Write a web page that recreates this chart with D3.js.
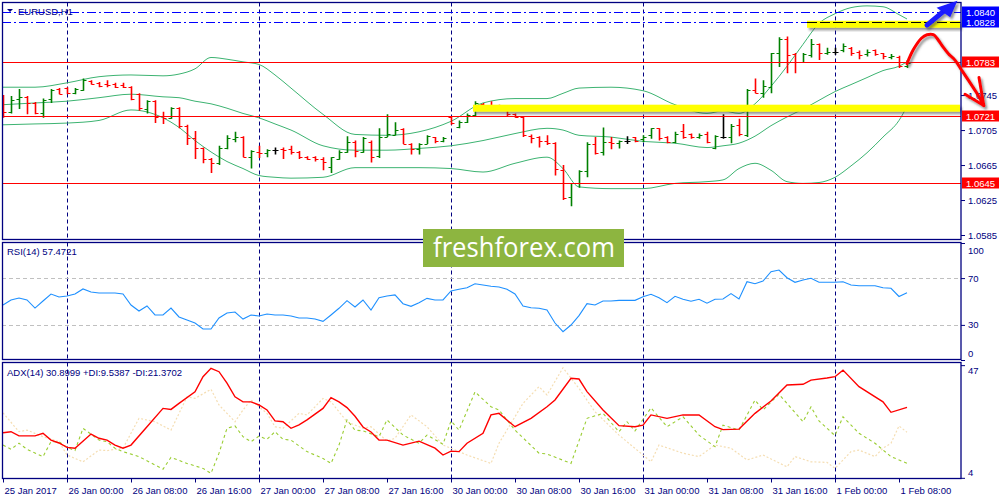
<!DOCTYPE html>
<html>
<head>
<meta charset="utf-8">
<script src="https://cdnjs.cloudflare.com/ajax/libs/d3/7.8.5/d3.min.js"></script>
<style>
	html, body { margin: 0; padding: 0; background: #fff; }
	svg { display: block; font-family: "Liberation Sans", Arial, sans-serif; }
</style>
</head>
<body>
<svg id="chart" width="1000" height="500"></svg>
<script>
// EURUSD H1, 25 Jan 16:00 .. 1 Feb 09:00 (bar index 0..113)
var opens = [1.0744,1.0726,1.0741,1.0743,1.0736,1.0724,1.0741,1.0752,1.0753,1.0747,
	1.0751,1.0761,1.0759,1.0758,1.0758,1.0757,1.0754,1.0746,1.0729,1.0738,
	1.0721,1.0719,1.0730,1.0710,1.0696,1.0684,1.0672,1.0667,1.0684,1.0695,
	1.0697,1.0674,1.0680,1.0679,1.0682,1.0683,1.0683,1.0680,1.0674,1.0674,
	1.0672,1.0663,1.0672,1.0680,1.0691,1.0680,1.0691,1.0675,1.0697,1.0699,
	1.0706,1.0689,1.0683,1.0689,1.0697,1.0693,1.0720,1.0708,1.0714,1.0722,
	1.0735,1.0732,1.0731,1.0729,1.0723,1.0720,1.0698,1.0697,1.0693,1.0690,
	1.0659,1.0628,1.0644,1.0658,1.0689,1.0680,1.0691,1.0690,1.0693,1.0697,
	1.0695,1.0699,1.0707,1.0697,1.0691,1.0704,1.0701,1.0697,1.0701,1.0684,
	1.0697,1.0697,1.0711,1.0699,1.0751,1.0747,1.0754,1.0793,1.0809,1.0792,
	1.0783,1.0791,1.0803,1.0793,1.0794,1.0796,1.0799,1.0794,1.0792,1.0796,
	1.0793,1.0789,1.0789,1.0778];
var highs = [1.0745,1.0744,1.0752,1.0744,1.0737,1.0741,1.0752,1.0753,1.0754,1.0753,
	1.0764,1.0762,1.0760,1.0762,1.0759,1.0759,1.0755,1.0747,1.0739,1.0739,
	1.0726,1.0731,1.0731,1.0711,1.0704,1.0685,1.0673,1.0687,1.0699,1.0703,
	1.0698,1.0682,1.0687,1.0683,1.0685,1.0685,1.0687,1.0681,1.0675,1.0675,
	1.0674,1.0674,1.0682,1.0698,1.0693,1.0697,1.0693,1.0707,1.0723,1.0714,
	1.0707,1.0690,1.0690,1.0699,1.0697,1.0697,1.0720,1.0716,1.0724,1.0738,
	1.0736,1.0738,1.0734,1.0730,1.0724,1.0720,1.0700,1.0698,1.0699,1.0691,
	1.0665,1.0644,1.0659,1.0691,1.0697,1.0708,1.0697,1.0693,1.0698,1.0697,
	1.0699,1.0707,1.0707,1.0698,1.0703,1.0712,1.0701,1.0701,1.0703,1.0699,
	1.0723,1.0712,1.0718,1.0752,1.0764,1.0762,1.0793,1.0811,1.0812,1.0793,
	1.0793,1.0809,1.0804,1.0799,1.0799,1.0804,1.0800,1.0796,1.0797,1.0797,
	1.0793,1.0792,1.0790,1.0785];
var lows = [1.0719,1.0724,1.0729,1.0723,1.0723,1.0719,1.0736,1.0746,1.0746,1.0746,
	1.0750,1.0757,1.0754,1.0754,1.0753,1.0753,1.0739,1.0727,1.0724,1.0713,
	1.0712,1.0718,1.0707,1.0688,1.0672,1.0667,1.0656,1.0665,1.0683,1.0691,
	1.0674,1.0661,1.0673,1.0674,1.0677,1.0672,1.0677,1.0672,1.0671,1.0669,
	1.0659,1.0656,1.0671,1.0679,1.0674,1.0679,1.0668,1.0673,1.0697,1.0699,
	1.0689,1.0677,1.0677,1.0689,1.0690,1.0691,1.0711,1.0707,1.0713,1.0721,
	1.0729,1.0730,1.0727,1.0721,1.0719,1.0697,1.0690,1.0685,1.0688,1.0653,
	1.0625,1.0618,1.0639,1.0651,1.0677,1.0676,1.0683,1.0684,1.0689,1.0691,
	1.0691,1.0695,1.0693,1.0690,1.0690,1.0695,1.0695,1.0695,1.0690,1.0683,
	1.0695,1.0690,1.0698,1.0697,1.0747,1.0742,1.0747,1.0777,1.0770,1.0770,
	1.0782,1.0788,1.0785,1.0791,1.0791,1.0794,1.0790,1.0786,1.0789,1.0790,
	1.0786,1.0786,1.0776,1.0776];
var closes = [1.0726,1.0739,1.0743,1.0736,1.0724,1.0739,1.0751,1.0746,1.0747,1.0752,
	1.0762,1.0758,1.0755,1.0757,1.0754,1.0754,1.0741,1.0730,1.0738,1.0720,
	1.0719,1.0730,1.0710,1.0696,1.0684,1.0672,1.0667,1.0685,1.0696,1.0697,
	1.0674,1.0681,1.0679,1.0682,1.0682,1.0682,1.0680,1.0674,1.0672,1.0672,
	1.0668,1.0674,1.0680,1.0691,1.0681,1.0696,1.0674,1.0697,1.0701,1.0705,
	1.0689,1.0683,1.0689,1.0698,1.0693,1.0696,1.0713,1.0714,1.0722,1.0736,
	1.0731,1.0731,1.0729,1.0723,1.0720,1.0699,1.0696,1.0693,1.0690,1.0660,
	1.0627,1.0644,1.0658,1.0689,1.0679,1.0691,1.0690,1.0692,1.0693,1.0693,
	1.0697,1.0707,1.0696,1.0691,1.0701,1.0697,1.0697,1.0699,1.0691,1.0698,
	1.0697,1.0710,1.0701,1.0751,1.0747,1.0755,1.0793,1.0809,1.0791,1.0783,
	1.0792,1.0803,1.0793,1.0794,1.0794,1.0801,1.0793,1.0791,1.0794,1.0792,
	1.0790,1.0790,1.0778,1.0782];

// Bollinger bands, read at these bar indices
var bandIdx = [0,4,8,12,16,20,22,24,26,28,30,32,34,36,40,44,48,52,56,60,64,68,70,72,76,80,84,88,90,92,94,96,98,100,102,104,106,108,110,112,113];
var bandUpper = [1.0754,1.0754,1.0759,1.0766,1.0768,1.0767,1.0769,1.0775,1.0788,1.0786,1.0783,1.0780,1.0768,1.0753,
	1.0723,1.0700,1.0699,1.0703,1.0715,1.0736,1.0741,1.0741,1.0747,1.0753,1.0754,1.0750,1.0734,1.0724,
	1.0727,1.0724,1.0735,1.0755,1.0778,1.0803,1.0827,1.0838,1.0845,1.0847,1.0846,1.0837,1.0832];
var bandMiddle = [1.0734,1.0736,1.0738,1.0742,1.0746,1.0743,1.0742,1.0738,1.0735,1.0730,1.0724,1.0719,1.0712,1.0705,
	1.0687,1.0682,1.0682,1.0684,1.0687,1.0693,1.0701,1.0707,1.0705,1.0699,1.0697,1.0692,1.0690,1.0685,
	1.0687,1.0690,1.0698,1.0710,1.0720,1.0729,1.0739,1.0749,1.0757,1.0765,1.0773,1.0778,1.0783];
var bandLower = [1.0711,1.0712,1.0713,1.0716,1.0728,1.0719,1.0708,1.0693,1.0680,1.0669,1.0661,1.0653,1.0651,1.0650,
	1.0651,1.0662,1.0662,1.0662,1.0661,1.0657,1.0667,1.0674,1.0661,1.0640,1.0638,1.0638,1.0644,1.0646,
	1.0648,1.0661,1.0667,1.0659,1.0646,1.0644,1.0645,1.0651,1.0664,1.0679,1.0697,1.0716,1.0732];

var rsiValues = [47,51.3,53,51.3,44.4,50.4,56.4,53.8,54.7,56.4,
	60.7,58.1,57.3,57.3,57.3,56.4,47,41.9,46.2,38.5,
	38.5,44.4,36.8,34.2,31.6,26.5,26.5,35.9,40.2,41,
	35,38.5,37.6,39.3,38.5,38.5,37.6,35.9,35.9,35,
	33,38.5,44.2,50.7,45.3,51.3,42.7,53.2,54.7,55.6,
	48.1,45.9,49,52.7,51.3,51.3,59,60.4,61.8,65.2,
	64.1,63,62.4,60.4,56.4,46.2,44.7,44.2,42.7,31.6,
	24.2,29.9,37.9,48.1,47,50.4,50.4,51,51,51,
	54.1,56.2,53.2,49,54.4,51.9,50.2,51.9,48.5,51.9,
	52.1,56.7,52.1,66.9,65.2,67.5,75.5,76.9,70.3,66.4,
	68.4,69.8,66.4,66.4,66.4,66.9,64.1,63.5,63.5,63.5,
	61.8,61.3,54.3,57.4721];

// ADX(14) lines as [bar index, value]
var adxMain = [[0,21.2],[1,21.6],[2,20.0],[4,20.0],[5,21.0],[6,18.4],[7,17.3],[8,15.6],[9,15.3],[11,20.7],
	[12,19.1],[13,18.4],[14,16.5],[15,15.3],[16,16.5],[18,23.5],[20,30.5],[21,30.1],[22,32.4],[24,36.8],
	[25,42.6],[26,45.8],[27,44.5],[28,40.1],[29,34.9],[30,33.0],[31,33.0],[32,31.8],[33,29.9],[34,25.7],
	[35,25.4],[36,22.9],[37,24.2],[38,26.1],[40,30.5],[41,34.6],[42,33.0],[43,30.8],[44,27.5],[45,23.4],
	[46,21.5],[47,18.4],[48,18.4],[50,16.5],[52,18.0],[54,15.3],[55,12.7],[56,14.2],[57,14.0],[58,17.2],
	[60,21.0],[61,28.0],[62,28.6],[64,23.5],[66,26.7],[68,31.1],[69,33.7],[71,42.0],[72,41.7],[73,36.9],
	[75,29.9],[77,23.9],[79,23.5],[80,24.1],[81,28.0],[83,26.7],[85,28.0],[87,28.0],[89,23.5],[90,22.4],
	[92,22.6],[94,28.6],[96,33.3],[98,39.4],[100,39.7],[101,41.3],[103,42.1],[104,42.6],[105,45.1],[107,38.8],
	[110,33.0],[111,29.0],[113,30.8999]];
var plusDI = [[0,16.5],[1,14.9],[2,17.2],[3,14.9],[5,12.1],[6,17.8],[7,17.8],[8,15.6],[9,14.4],[10,22.9],
	[12,18.4],[13,17.8],[14,15.3],[15,14.0],[17,12.1],[20,7.3],[21,11.8],[23,9.5],[25,7.6],[26,5.7],
	[27,13.4],[28,22.9],[29,23.8],[30,19.7],[31,17.8],[32,19.9],[33,18.7],[34,21.6],[35,18.7],[36,18.4],
	[38,14.0],[40,11.4],[41,9.5],[42,16.5],[43,26.1],[44,22.2],[45,21.9],[47,19.7],[48,26.1],[50,20.3],
	[52,17.2],[53,20.3],[55,16.8],[56,25.7],[57,22.2],[59,36.8],[61,31.1],[62,29.9],[64,22.2],[67,13.4],
	[68,13.1],[71,9.5],[73,26.7],[75,28.6],[77,21.6],[78,25.4],[79,21.9],[81,30.7],[83,23.5],[85,27.3],
	[87,20.3],[89,15.9],[90,24.1],[92,22.2],[94,33.7],[95,29.9],[97,35.9],[98,32.4],[100,25.4],[101,31.1],
	[102,25.7],[104,20.1],[105,27.3],[107,21.0],[109,17.2],[111,12.1],[113,9.5387]];
var minusDI = [[0,28.8],[2,21.6],[3,22.2],[5,19.7],[7,17.8],[8,12.7],[10,10.1],[12,14.6],[13,14.4],[15,15.3],
	[17,26.7],[19,25.4],[21,22.2],[23,34.9],[24,34.3],[26,37.8],[27,31.8],[29,25.4],[30,29.9],[31,33.7],
	[33,28.6],[34,23.5],[35,22.9],[37,28.6],[38,28.0],[39,31.1],[40,34.3],[41,33.0],[43,25.4],[45,22.9],
	[46,23.5],[48,18.0],[49,19.1],[51,28.0],[53,23.5],[55,16.5],[56,15.3],[58,12.7],[61,9.5],[62,17.2],
	[65,32.4],[67,38.8],[68,35.6],[70,46.0],[72,38.1],[74,29.2],[77,20.3],[80,12.7],[81,10.1],[82,16.5],
	[85,13.4],[87,12.1],[89,16.5],[91,15.3],[93,10.8],[95,12.7],[98,8.2],[99,12.1],[101,10.1],[103,9.9],
	[104,7.6],[106,14.0],[107,14.6],[109,12.1],[110,15.3],[111,17.2],[112,23.8],[113,21.3702]];

var timeIdx = [0,8,16,24,32,40,48,56,64,72,80,88,96,104,112];
var timeLabels = ["25 Jan 2017","26 Jan 00:00","26 Jan 08:00","26 Jan 16:00","27 Jan 00:00","27 Jan 08:00",
	"27 Jan 16:00","30 Jan 00:00","30 Jan 08:00","30 Jan 16:00","31 Jan 00:00","31 Jan 08:00",
	"31 Jan 16:00","1 Feb 00:00","1 Feb 08:00"];
var dayStarts = [8,32,56,80,104];

var priceTicks = [1.0745,1.0705,1.0665,1.0625,1.0585];
var targetLevels = [1.0840,1.0828];
var supportLevels = [1.0783,1.0721,1.0645];
var rsiTicks = [100,70,30,0];
var rsiLevels = [70,30];
var adxTicks = [47,4];

// highlighted zones: start bar, top price, bottom price
var zoneStart = [100.5,58.75];
var zoneTop = [1.0830,1.0734];
var zoneBottom = [1.0822,1.0726];

// hand drawn forecast (bar index, price)
var forecastPath = [[113,1.0781],[113.8,1.0797],[114.8,1.0810],[115.5,1.0814],[116.3,1.0814],[116.9,1.0808],
	[117.5,1.0800],[118.2,1.0792],[119.0,1.0785],[119.8,1.0774],[120.6,1.0763],[121.6,1.0749],[122.6,1.0733]];
var forecastHead = [[122,1.0765],[122.6,1.0733],[120.25,1.0746]];
var breakoutShaft = [[115.5,1.0825],[117.6,1.0841]];
var breakoutHead = [[116.7,1.0845],[119.3,1.0853],[118.4,1.0834]];

var symbolTitle = "EURUSD,H1";
var rsiTitle = "RSI(14) 57.4721";
var adxTitle = "ADX(14) 30.8999 +DI:9.5387 -DI:21.3702";

(function(){
	var svg = d3.select("#chart");
	var axisColor = "#000080";
	var fontSize = "9.5px";
	var left = 2, right = 961;
	var panels = {
		main: {top: 2.5, bottom: 239.5},
		rsi: {top: 242.5, bottom: 359.5},
		adx: {top: 362.5, bottom: 478.5}
	};

	var x = d3.scaleLinear().domain([0, 113]).range([3, 907]);
	var yMain = d3.scaleLinear().domain([1.0840, 1.0585]).range([12, 235]);
	var yRsi = d3.scaleLinear().domain([0, 100]).range([360, 243]);
	var yAdx = d3.scaleLinear().domain([3.55, 48.2]).range([479, 362]);
	var fmt = d3.format(".4f");

	var defs = svg.append("defs");
	Object.keys(panels).forEach(function(k){
		var p = panels[k];
		defs.append("clipPath").attr("id", "clip-" + k)
			.append("rect").attr("x", left).attr("y", p.top).attr("width", right - left).attr("height", p.bottom - p.top);
	});
	var shadow = defs.append("filter").attr("id", "shadow")
		.attr("x", "-20%").attr("y", "-20%").attr("width", "150%").attr("height", "180%");
	shadow.append("feDropShadow").attr("dx", 2).attr("dy", 2.5).attr("stdDeviation", 1.3)
		.attr("flood-color", "#444").attr("flood-opacity", 0.55);

	// day separators
	function separators(key){
		var p = panels[key];
		svg.append("g").selectAll("line").data(dayStarts).enter().append("line")
			.attr("x1", function(d){ return Math.round(x(d)) + 0.5; })
			.attr("x2", function(d){ return Math.round(x(d)) + 0.5; })
			.attr("y1", p.top).attr("y2", p.bottom)
			.attr("stroke", axisColor).attr("stroke-width", 1).attr("stroke-dasharray", "4,3");
	}
	separators("main"); separators("rsi"); separators("adx");

	// ---------- main panel ----------
	var gMain = svg.append("g").attr("clip-path", "url(#clip-main)");

	var band = function(vals){
		return d3.line()
			.x(function(d, i){ return x(bandIdx[i]); })
			.y(function(d){ return yMain(d); })
			.curve(d3.curveMonotoneX)(vals);
	};
	[bandUpper, bandMiddle, bandLower].forEach(function(vals){
		gMain.append("path").attr("d", band(vals))
			.attr("fill", "none").attr("stroke", "#3cb371").attr("stroke-width", 1);
	});

	var bars = opens.map(function(o, i){
		return {i: i, o: o, h: highs[i], l: lows[i], c: closes[i]};
	});
	function barColor(d){
		if(d.c > d.o){ return "#008000"; }
		if(d.c < d.o){ return "#ff0000"; }
		return "#000000";
	}
	var barG = gMain.selectAll("g.bar").data(bars).enter().append("g").classed("bar", true)
		.attr("stroke", barColor);
	barG.append("line")
		.attr("x1", function(d){ return Math.round(x(d.i)) + 0.5; })
		.attr("x2", function(d){ return Math.round(x(d.i)) + 0.5; })
		.attr("y1", function(d){ return yMain(d.h); })
		.attr("y2", function(d){ return yMain(d.l); })
		.attr("stroke-width", 1.6);
	barG.append("line")
		.attr("x1", function(d){ return Math.round(x(d.i)) - 2.5; })
		.attr("x2", function(d){ return Math.round(x(d.i)) + 0.5; })
		.attr("y1", function(d){ return Math.round(yMain(d.o)) + 0.5; })
		.attr("y2", function(d){ return Math.round(yMain(d.o)) + 0.5; })
		.attr("stroke-width", 1);
	barG.append("line")
		.attr("x1", function(d){ return Math.round(x(d.i)) + 0.5; })
		.attr("x2", function(d){ return Math.round(x(d.i)) + 3.5; })
		.attr("y1", function(d){ return Math.round(yMain(d.c)) + 0.5; })
		.attr("y2", function(d){ return Math.round(yMain(d.c)) + 0.5; })
		.attr("stroke-width", 1);

	// level lines
	gMain.selectAll("line.target").data(targetLevels).enter().append("line").classed("target", true)
		.attr("x1", left).attr("x2", right)
		.attr("y1", function(d){ return Math.round(yMain(d)) + 0.5; })
		.attr("y2", function(d){ return Math.round(yMain(d)) + 0.5; })
		.attr("stroke", "#0000ff").attr("stroke-width", 1).attr("stroke-dasharray", "9,3,2,3");
	gMain.selectAll("line.support").data(supportLevels).enter().append("line").classed("support", true)
		.attr("x1", left).attr("x2", right)
		.attr("y1", function(d){ return Math.round(yMain(d)) + 0.5; })
		.attr("y2", function(d){ return Math.round(yMain(d)) + 0.5; })
		.attr("stroke", "#ff0000").attr("stroke-width", 1.2);

	// yellow zones
	var zones = zoneStart.map(function(s, i){ return {s: s, t: zoneTop[i], b: zoneBottom[i]}; });
	svg.append("g").selectAll("rect").data(zones).enter().append("rect")
		.attr("x", function(d){ return x(d.s); })
		.attr("width", function(d){ return right - 1 - x(d.s); })
		.attr("y", function(d){ return yMain(d.t); })
		.attr("height", function(d){ return yMain(d.b) - yMain(d.t); })
		.attr("fill", "#ffff00").attr("filter", "url(#shadow)");
	svg.append("line")
		.attr("x1", x(zoneStart[0])).attr("x2", right - 1)
		.attr("y1", Math.round(yMain(targetLevels[1])) + 0.5).attr("y2", Math.round(yMain(targetLevels[1])) + 0.5)
		.attr("stroke", "#000").attr("stroke-width", 1.2).attr("stroke-dasharray", "10,3");

	// ---------- RSI panel ----------
	var gRsi = svg.append("g").attr("clip-path", "url(#clip-rsi)");
	gRsi.selectAll("line.lvl").data(rsiLevels).enter().append("line").classed("lvl", true)
		.attr("x1", left).attr("x2", right)
		.attr("y1", function(d){ return Math.round(yRsi(d)) + 0.5; })
		.attr("y2", function(d){ return Math.round(yRsi(d)) + 0.5; })
		.attr("stroke", "#c0c0c0").attr("stroke-dasharray", "4,3");
	gRsi.append("path")
		.attr("d", d3.line().x(function(d, i){ return x(i); }).y(function(d){ return yRsi(d); })(rsiValues))
		.attr("fill", "none").attr("stroke", "#1e90ff").attr("stroke-width", 1.1);

	// ---------- ADX panel ----------
	var gAdx = svg.append("g").attr("clip-path", "url(#clip-adx)");
	var adxLine = d3.line().x(function(d){ return x(d[0]); }).y(function(d){ return yAdx(d[1]); });
	gAdx.append("path").attr("d", adxLine(minusDI))
		.attr("fill", "none").attr("stroke", "#f5deb3").attr("stroke-width", 1.2).attr("stroke-dasharray", "2,2");
	gAdx.append("path").attr("d", adxLine(plusDI))
		.attr("fill", "none").attr("stroke", "#9acd32").attr("stroke-width", 1.1).attr("stroke-dasharray", "3,3");
	gAdx.append("path").attr("d", adxLine(adxMain))
		.attr("fill", "none").attr("stroke", "#ff0000").attr("stroke-width", 1.4);

	// ---------- frames ----------
	Object.keys(panels).forEach(function(k){
		var p = panels[k];
		svg.append("rect").attr("x", left + 0.5).attr("y", p.top).attr("width", right - left - 0.5)
			.attr("height", p.bottom - p.top)
			.attr("fill", "none").attr("stroke", axisColor).attr("stroke-width", 1.3);
	});

	// ---------- axes ----------
	function styleAxis(g){
		g.select(".domain").remove();
		g.selectAll("line").attr("stroke", axisColor);
		g.selectAll("text").attr("fill", axisColor).style("font-size", fontSize)
			.style("font-family", "\"Liberation Sans\", Arial, sans-serif");
	}
	function clampLabels(g, scale, p){
		g.selectAll(".tick").each(function(d){
			var ty = scale(d);
			var cy = Math.max(p.top + 8, Math.min(p.bottom - 6, ty));
			d3.select(this).select("text").attr("y", cy - ty);
		});
	}

	var axMain = svg.append("g").attr("transform", "translate(" + right + ",0)")
		.call(d3.axisRight(yMain).tickValues(priceTicks).tickFormat(fmt).tickSize(4).tickPadding(3));
	styleAxis(axMain);

	var axRsi = svg.append("g").attr("transform", "translate(" + right + ",0)")
		.call(d3.axisRight(yRsi).tickValues(rsiTicks).tickFormat(d3.format("d")).tickSize(4).tickPadding(3));
	styleAxis(axRsi);
	clampLabels(axRsi, yRsi, panels.rsi);

	var axAdx = svg.append("g").attr("transform", "translate(" + right + ",0)")
		.call(d3.axisRight(yAdx).tickValues(adxTicks).tickFormat(d3.format("d")).tickSize(4).tickPadding(3));
	styleAxis(axAdx);
	clampLabels(axAdx, yAdx, panels.adx);

	var axTime = svg.append("g").attr("transform", "translate(0," + panels.adx.bottom + ")")
		.call(d3.axisBottom(x).tickValues(timeIdx)
			.tickFormat(function(d, i){ return timeLabels[i]; }).tickSize(4).tickPadding(3));
	styleAxis(axTime);
	axTime.selectAll("text").attr("text-anchor", "start").attr("dx", "1px").attr("dy", "0.9em");

	// level price boxes
	var boxes = targetLevels.map(function(v){ return {v: v, c: "#0000ff"}; })
		.concat(supportLevels.map(function(v){ return {v: v, c: "#ff0000"}; }));
	var boxG = svg.append("g").selectAll("g").data(boxes).enter().append("g")
		.attr("transform", function(d){ return "translate(" + (right + 1) + "," + Math.round(yMain(d.v)) + ")"; });
	boxG.append("rect").attr("x", 0).attr("y", -5.5).attr("width", 37).attr("height", 11)
		.attr("fill", function(d){ return d.c; });
	boxG.append("text").attr("x", 4).attr("y", 3.5).attr("fill", "#fff")
		.style("font-size", fontSize).text(function(d){ return fmt(d.v); });

	// ---------- titles ----------
	svg.append("path").attr("d", "M7,9L13,9L10,12Z").attr("fill", axisColor);
	svg.append("text").attr("x", 18).attr("y", 14.5).attr("fill", axisColor)
		.style("font-size", fontSize).text(symbolTitle);
	svg.append("text").attr("x", 7).attr("y", 255).attr("fill", axisColor)
		.style("font-size", fontSize).text(rsiTitle);
	svg.append("text").attr("x", 7).attr("y", 375.5).attr("fill", axisColor)
		.style("font-size", fontSize).text(adxTitle);

	// ---------- drawn forecast arrows ----------
	var ptLine = d3.line().x(function(d){ return x(d[0]); }).y(function(d){ return yMain(d[1]); });
	var arrowG = svg.append("g").attr("filter", "url(#shadow)");
	arrowG.append("path").attr("d", ptLine.curve(d3.curveCatmullRom)(forecastPath))
		.attr("fill", "none").attr("stroke", "#ff0000").attr("stroke-width", 3)
		.attr("stroke-linecap", "round").attr("stroke-linejoin", "round");
	arrowG.append("path").attr("d", d3.line().x(function(d){ return x(d[0]); }).y(function(d){ return yMain(d[1]); })(forecastHead))
		.attr("fill", "none").attr("stroke", "#ff0000").attr("stroke-width", 3)
		.attr("stroke-linecap", "round").attr("stroke-linejoin", "round");

	var blueG = svg.append("g").attr("filter", "url(#shadow)");
	blueG.append("path").attr("d", d3.line().x(function(d){ return x(d[0]); }).y(function(d){ return yMain(d[1]); })(breakoutShaft))
		.attr("stroke", "#1a1aff").attr("stroke-width", 5).attr("stroke-linecap", "round");
	blueG.append("path").attr("d", d3.line().x(function(d){ return x(d[0]); }).y(function(d){ return yMain(d[1]); })(breakoutHead) + "Z")
		.attr("fill", "#1a1aff");

	// ---------- watermark ----------
	var wm = svg.append("g");
	wm.append("rect").attr("x", 423).attr("y", 229).attr("width", 201).attr("height", 38).attr("fill", "#8db540");
	wm.append("text").attr("x", 433).attr("y", 257).attr("fill", "#ffffff")
		.attr("textLength", 182).attr("lengthAdjust", "spacingAndGlyphs")
		.style("font-family", "\"Open Sans\", sans-serif").style("font-size", "28px")
		.text("freshforex.com");
}());
</script>
</body>
</html>
